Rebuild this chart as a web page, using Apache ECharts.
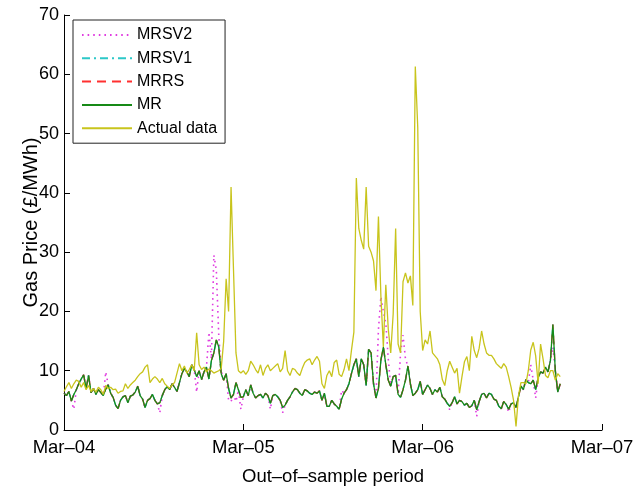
<!DOCTYPE html>
<html>
<head>
<meta charset="utf-8">
<script src="https://cdn.jsdelivr.net/npm/echarts@6/dist/echarts.min.js"></script>
<style>
  html, body { margin: 0; padding: 0; background: #fff; }
  #main { width: 638px; height: 491px; }
</style>
</head>
<body>
<div id="main"></div>
<script>
// gas price forecasts, out-of-sample, one reading every 5 days from Mar-04
var dayStep = 5
var tickLabels = ['Mar–04', 'Mar–05', 'Mar–06', 'Mar–07']
var seriesNames = ['MRSV2', 'MRSV1', 'MRRS', 'MR', 'Actual data']

var actualValues = [
    6.5, 7.3, 8.0, 7.0, 7.8, 8.4, 8.2, 7.2, 8.0, 6.8,
    7.5, 6.5, 7.0, 6.4, 7.2, 6.8, 6.0, 7.5, 7.0, 7.2,
    6.8, 6.9, 6.2, 6.5, 6.6, 7.8, 7.0, 7.6, 8.0, 8.4,
    9.0, 9.5, 9.8, 10.6, 11.0, 8.0, 8.6, 9.0, 8.6, 8.0,
    8.7, 7.8, 7.4, 7.0, 7.6, 8.0, 9.6, 11.2, 10.0, 10.8,
    9.6, 10.2, 11.0, 10.0, 16.4, 11.0, 10.2, 10.6, 9.8, 10.3,
    10.0, 9.6, 9.8, 10.0, 10.4, 15.0, 25.5, 20.0, 41.0, 27.0,
    13.0, 10.0, 9.6, 10.0, 9.4, 10.0, 11.6, 11.0, 10.2, 9.6,
    11.0, 9.2, 10.4, 11.0, 10.0, 10.4, 10.8, 11.2, 9.8, 10.4,
    13.4, 10.0, 9.2, 10.4, 10.2, 9.6, 9.2, 10.4, 11.4, 11.8,
    12.0, 11.0, 11.8, 12.4, 11.6, 7.8, 7.0, 9.2, 10.0, 9.0,
    11.4, 11.8, 9.4, 9.0, 10.2, 12.0, 10.0, 13.4, 16.5, 42.5,
    34.0, 32.0, 30.5, 41.0, 31.0, 30.0, 28.5, 23.5, 36.0, 22.5,
    14.0, 24.5, 17.0, 13.0, 19.6, 34.0, 14.5, 13.0, 25.0, 26.5,
    24.8, 26.0, 21.0, 61.3, 51.0, 20.0, 13.4, 15.2, 14.5, 16.7,
    13.0, 12.5, 12.0, 11.0, 8.5, 7.5, 10.0, 11.6, 10.6, 9.6,
    10.4, 6.2, 9.0, 11.5, 12.4, 10.0, 15.8, 13.4, 12.2, 13.8,
    16.7, 14.5, 13.0, 12.6, 12.6, 12.0, 11.2, 10.8, 10.4, 11.2,
    10.6, 9.0, 7.2, 5.0, 0.6, 5.8, 8.0, 8.0, 7.8, 10.0,
    13.5, 14.8, 12.5, 7.8, 14.5, 12.0, 9.2, 8.8, 10.0, 10.0,
    8.4, 9.5, 9.0
]

var mrValues = [
    6.2, 5.8, 6.5, 4.9, 6.0, 6.8, 7.8, 8.6, 9.3, 7.0,
    9.2, 6.3, 7.0, 6.0, 6.8, 6.3, 5.8, 6.9, 7.6, 6.2,
    5.5, 4.2, 3.6, 5.0, 5.6, 5.8, 4.6, 5.7, 5.9, 6.4,
    7.4, 5.8, 5.2, 3.8, 5.0, 5.3, 6.0, 5.0, 4.4, 4.6,
    5.8, 6.8, 7.3, 6.8, 7.8, 7.2, 6.5, 8.0, 9.5, 10.4,
    9.8, 9.0, 11.0, 10.2, 9.0, 10.0, 8.5, 9.8, 10.6, 8.6,
    11.7, 13.0, 15.2, 14.0, 9.5, 8.4, 9.5, 7.0, 5.4, 6.0,
    8.0, 6.8, 5.5, 5.6, 6.8, 5.8, 7.6, 6.2, 5.4, 5.8,
    6.0, 5.4, 6.2, 5.8, 4.5, 5.8, 6.0, 5.6, 5.0, 3.8,
    4.2, 5.0, 5.6, 6.4, 7.0, 6.8, 6.2, 5.8, 6.8, 6.6,
    6.2, 6.0, 6.4, 6.2, 6.6, 5.0, 6.2, 4.0, 4.0, 5.0,
    4.4, 4.0, 3.5, 5.2, 6.2, 6.8, 7.8, 9.5, 11.0, 12.0,
    9.0, 12.0, 11.0, 7.5, 13.6, 13.0, 7.8, 5.4, 7.0, 11.8,
    14.0, 11.0, 8.4, 7.4, 9.0, 9.2, 6.0, 5.5, 6.8, 8.4,
    10.8, 7.8, 5.8, 6.2, 6.8, 8.2, 6.0, 6.8, 7.6, 7.0,
    6.0, 6.8, 6.4, 7.2, 5.6, 5.2, 4.5, 4.0, 4.6, 5.6,
    4.4, 5.0, 4.8, 4.2, 4.5, 3.8, 4.1, 5.0, 3.4, 4.8,
    6.0, 6.2, 5.4, 6.2, 6.0, 5.2, 5.0, 4.0, 3.6, 4.8,
    4.3, 3.5, 4.4, 4.6, 3.8, 5.6, 7.4, 6.8, 8.5, 8.0,
    7.8, 8.4, 6.8, 8.8, 9.8, 9.6, 10.6, 9.8, 11.7, 17.8,
    10.0, 6.4, 7.8
]

var mrsv2Values = [
    6.2, 5.8, 6.5, 4.9, 3.5, 6.8, 7.8, 8.6, 9.3, 7.0,
    9.2, 6.3, 7.0, 6.0, 6.8, 6.3, 5.8, 9.8, 7.6, 6.2,
    5.5, 4.2, 3.6, 5.0, 5.6, 5.8, 4.6, 5.7, 5.9, 6.4,
    7.4, 5.8, 5.2, 3.8, 5.0, 5.3, 6.0, 5.0, 4.4, 2.9,
    5.8, 6.8, 7.3, 6.8, 7.8, 7.2, 6.5, 8.0, 9.5, 10.4,
    9.8, 9.0, 11.0, 10.2, 6.4, 10.0, 8.5, 9.8, 10.6, 16.5,
    12.0, 29.5, 27.0, 16.0, 10.0, 8.4, 9.5, 5.0, 4.8, 6.0,
    4.8, 6.8, 3.5, 5.6, 6.8, 5.8, 7.6, 6.2, 5.4, 5.8,
    6.0, 5.4, 6.2, 5.8, 3.5, 5.8, 6.0, 5.6, 5.0, 2.9,
    4.2, 5.0, 5.6, 6.4, 7.0, 6.8, 6.2, 5.8, 6.8, 6.6,
    6.2, 6.0, 6.4, 6.2, 6.6, 5.0, 6.2, 4.0, 4.0, 5.0,
    4.4, 4.0, 3.5, 6.7, 6.2, 6.8, 7.8, 9.5, 11.0, 12.0,
    9.0, 12.0, 11.0, 7.5, 13.6, 13.0, 7.8, 5.4, 17.0, 22.5,
    20.0, 18.0, 12.0, 7.4, 9.0, 9.2, 6.0, 13.0, 16.0, 12.0,
    10.8, 7.8, 5.8, 6.2, 6.8, 8.2, 6.0, 6.8, 7.6, 7.0,
    6.0, 6.8, 6.4, 7.2, 5.6, 5.2, 4.5, 3.4, 4.6, 5.6,
    4.4, 5.0, 4.8, 4.2, 4.5, 3.8, 4.1, 5.0, 2.3, 4.8,
    6.0, 6.2, 5.4, 6.2, 6.0, 5.2, 5.0, 4.0, 3.6, 4.8,
    4.3, 3.0, 4.4, 4.6, 3.8, 5.6, 7.4, 6.8, 8.5, 8.0,
    11.0, 8.4, 5.4, 8.8, 9.8, 9.6, 10.6, 9.8, 11.7, 14.0,
    10.0, 6.4, 7.8
]

// MRSV1 and MRRS sit right under MR in the source figure
var mrsv1Values = mrValues.slice()
var mrrsValues = mrValues.slice()

var font = 'Liberation Sans, Arial, Helvetica, sans-serif'

function toPoints(values) {
    return values.map(function(v, i) {
        return [i * dayStep, v]
    })
}

var chart = echarts.init(document.getElementById('main'), null, {
    width: 638,
    height: 491,
    devicePixelRatio: 1
})

var option = {
    animation: false,
    backgroundColor: '#fff',
    textStyle: { fontFamily: font },
    grid: {
        left: 64,
        right: 36,
        top: 15,
        bottom: 54,
        containLabel: false
    },
    legend: {
        orient: 'vertical',
        left: 73,
        top: 20,
        padding: [7, 8, 7, 8],
        itemWidth: 50,
        itemHeight: 16,
        itemGap: 7.3,
        backgroundColor: '#fff',
        borderColor: '#222',
        borderWidth: 1,
        // hide the marker dot, keep only the line sample
        itemStyle: { opacity: 0 },
        textStyle: { fontSize: 16, color: '#000', fontFamily: font, lineHeight: 16 },
        data: seriesNames
    },
    xAxis: {
        type: 'value',
        min: 0,
        max: 1095,
        interval: 365,
        name: 'Out–of–sample period',
        nameLocation: 'middle',
        nameGap: 37,
        nameMoveOverlap: false,
        nameTextStyle: { fontSize: 18.5, color: '#000', fontFamily: font },
        axisLine: { show: true, lineStyle: { color: '#000', width: 1 } },
        axisTick: { show: true, inside: true, length: 6, lineStyle: { color: '#000' } },
        axisLabel: {
            fontSize: 18.5,
            color: '#000',
            margin: 8,
            fontFamily: font,
            formatter: function(v) {
                return tickLabels[Math.round(v / 365)]
            }
        },
        splitLine: { show: false }
    },
    yAxis: {
        type: 'value',
        min: 0,
        max: 70,
        interval: 10,
        name: 'Gas Price (£/MWh)',
        nameLocation: 'middle',
        nameGap: 23,
        nameMoveOverlap: false,
        nameTextStyle: { fontSize: 20, color: '#000', fontFamily: font },
        axisLine: { show: true, lineStyle: { color: '#000', width: 1 } },
        axisTick: { show: true, inside: true, length: 6, lineStyle: { color: '#000' } },
        axisLabel: { fontSize: 18, color: '#000', margin: 5, fontFamily: font },
        splitLine: { show: false }
    },
    series: [{
        name: 'MRSV2',
        type: 'line',
        symbol: 'none',
        data: toPoints(mrsv2Values),
        lineStyle: { color: '#e03ce0', width: 1.6, type: [1.6, 4] },
        itemStyle: { color: '#e03ce0' }
    }, {
        name: 'MRSV1',
        type: 'line',
        symbol: 'none',
        data: toPoints(mrsv1Values),
        lineStyle: { color: '#2cc8c8', width: 1.4, type: [8, 4, 2, 4] },
        itemStyle: { color: '#2cc8c8' }
    }, {
        name: 'MRRS',
        type: 'line',
        symbol: 'none',
        data: toPoints(mrrsValues),
        lineStyle: { color: '#ff3030', width: 1.4, type: [9, 6] },
        itemStyle: { color: '#ff3030' }
    }, {
        name: 'MR',
        type: 'line',
        symbol: 'none',
        data: toPoints(mrValues),
        lineStyle: { color: '#178a17', width: 1.3 },
        itemStyle: { color: '#178a17' }
    }, {
        name: 'Actual data',
        type: 'line',
        symbol: 'none',
        data: toPoints(actualValues),
        lineStyle: { color: '#c8c41c', width: 1.3 },
        itemStyle: { color: '#c8c41c' }
    }]
}

chart.setOption(option)
</script>
</body>
</html>
